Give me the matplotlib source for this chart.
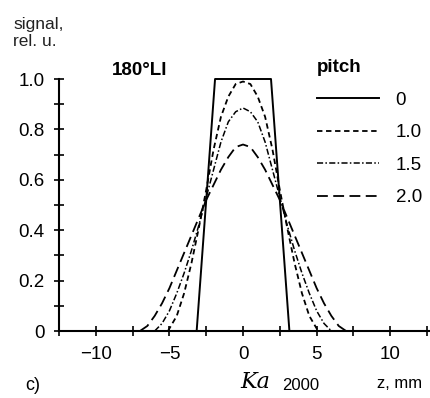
import numpy as np
import matplotlib.pyplot as plt
from matplotlib.ticker import MultipleLocator, FixedLocator

plt.rcParams['font.family'] = ['Liberation Sans', 'DejaVu Sans']

# slice profiles for 180°LI (z in mm, signal in rel. u.)
z_p0 = [-3.15, -1.9, 1.9, 3.15]
s_p0 = [0.0, 1.0, 1.0, 0.0]

z_p10 = [-5.1, -4.5, -4.0, -3.5, -3.0, -2.5, -2.0, -1.5, -1.0, -0.5, 0.0,
         0.5, 1.0, 1.5, 2.0, 2.5, 3.0, 3.5, 4.0, 4.5, 5.1]
s_p10 = [0.0, 0.06, 0.15, 0.27, 0.41, 0.56, 0.72, 0.85, 0.93, 0.98, 0.99,
         0.98, 0.93, 0.85, 0.72, 0.56, 0.41, 0.27, 0.15, 0.06, 0.0]

z_p15 = [-6.0, -5.5, -5.0, -4.5, -4.0, -3.5, -3.0, -2.5, -2.0, -1.5, -1.0, -0.5, 0.0,
         0.5, 1.0, 1.5, 2.0, 2.5, 3.0, 3.5, 4.0, 4.5, 5.0, 5.5, 6.0]
s_p15 = [0.0, 0.03, 0.08, 0.15, 0.23, 0.32, 0.42, 0.53, 0.64, 0.75, 0.83, 0.87, 0.885,
         0.87, 0.83, 0.75, 0.64, 0.53, 0.42, 0.32, 0.23, 0.15, 0.08, 0.03, 0.0]

z_p20 = [-7.0, -6.5, -6.0, -5.5, -5.0, -4.5, -4.0, -3.5, -3.0, -2.5, -2.0, -1.5, -1.0, -0.5, 0.0,
         0.5, 1.0, 1.5, 2.0, 2.5, 3.0, 3.5, 4.0, 4.5, 5.0, 5.5, 6.0, 6.5, 7.0]
s_p20 = [0.0, 0.02, 0.06, 0.11, 0.17, 0.24, 0.31, 0.38, 0.45, 0.52, 0.58, 0.64, 0.69, 0.73, 0.74,
         0.73, 0.69, 0.64, 0.58, 0.52, 0.45, 0.38, 0.31, 0.24, 0.17, 0.11, 0.06, 0.02, 0.0]

pitch_labels = ['0', '1.0', '1.5', '2.0']
y_ticks = [0, 0.2, 0.4, 0.6, 0.8, 1.0]
y_ticklabels = ['0', '0.2', '0.4', '0.6', '0.8', '1.0']
x_ticks = [-10, -5, 0, 5, 10]
x_ticklabels = ['\u221210', '\u22125', '0', '5', '10']

fig = plt.figure(figsize=(4.3, 3.98), dpi=100)
ax = fig.add_axes([59/430, 67/398, 371/430, 252/398])

ax.plot(z_p0, s_p0, color='black', lw=1.4, ls='-', label=pitch_labels[0], clip_on=False)
ax.plot(z_p10, s_p10, color='black', lw=1.3, ls=(0, (3, 2)), label=pitch_labels[1], clip_on=False)
ax.plot(z_p15, s_p15, color='black', lw=1.1, ls=(0, (4, 1.5, 1, 1.5)), label=pitch_labels[2], clip_on=False)
ax.plot(z_p20, s_p20, color='black', lw=1.3, ls=(0, (6, 3)), label=pitch_labels[3], clip_on=False)

ax.set_xlim(-12.5, 12.7)
ax.set_ylim(0, 1.0)

for side in ['top', 'right']:
    ax.spines[side].set_visible(False)
for side in ['left', 'bottom']:
    ax.spines[side].set_linewidth(1.5)

ax.yaxis.set_major_locator(FixedLocator(y_ticks))
ax.set_yticklabels(y_ticklabels)
ax.yaxis.set_minor_locator(MultipleLocator(0.1))
ax.xaxis.set_major_locator(FixedLocator(x_ticks))
ax.set_xticklabels(x_ticklabels)
ax.xaxis.set_minor_locator(MultipleLocator(2.5))
ax.tick_params(which='both', direction='inout', length=7, width=1.2, labelsize=13.5, pad=7)

ax.text(0.142, 1.0, '180°LI', transform=ax.transAxes, fontsize=13.5, fontweight='bold',
        va='bottom', ha='left')

leg = ax.legend(title='pitch', loc='upper left', bbox_to_anchor=(0.675, 1.108),
                frameon=False, fontsize=13.5, handlelength=3.3, handletextpad=0.9,
                labelspacing=0.82, borderaxespad=0)
leg.get_title().set_fontweight('bold')
leg.get_title().set_fontsize(13.5)
leg._legend_box.align = 'left'

fig.text(13/430, 1 - 33/398, 'signal,\nrel. u.', fontsize=12.5, va='center', ha='left',
         linespacing=1.2, color='#222222')
fig.text(25/430, 1 - 386/398, 'c)', fontsize=13, va='center', ha='left')
fig.text(377/430, 1 - 383/398, 'z, mm', fontsize=12, va='center', ha='left')
fig.text(282/430, 1 - 386/398, '2000', fontsize=12, va='center', ha='left')
fig.text(240/430, 1 - 382/398, 'Ka', fontsize=16, va='center', ha='left',
         style='italic', family=['DejaVu Serif'])

fig.savefig('out.png', dpi=100)
